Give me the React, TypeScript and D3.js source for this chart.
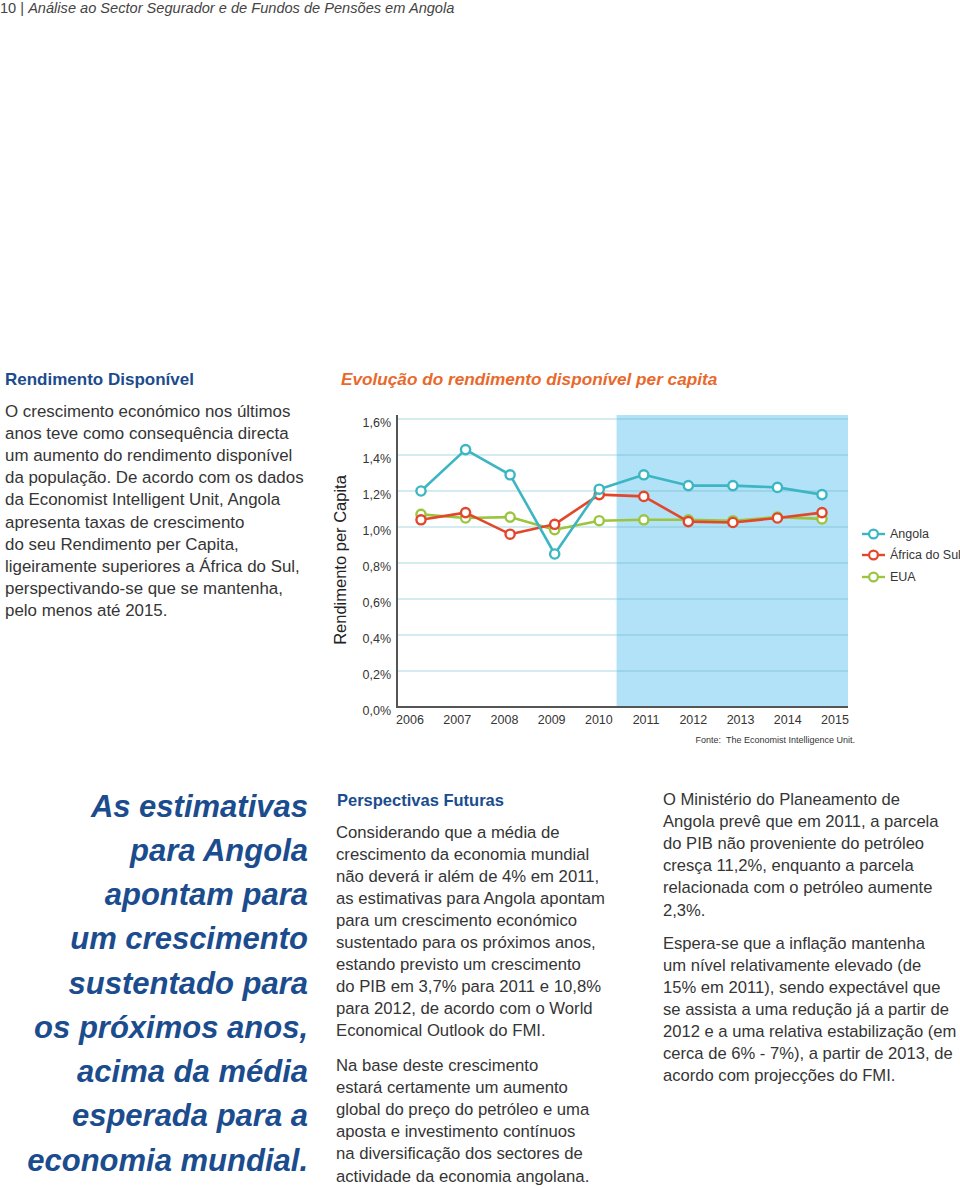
import React from 'react';
import * as d3 from 'd3';

const years = ['2006', '2007', '2008', '2009', '2010', '2011', '2012', '2013', '2014', '2015'];
const angola = [1.20, 1.43, 1.29, 0.85, 1.21, 1.29, 1.23, 1.23, 1.22, 1.18];
const africaDoSul = [1.04, 1.08, 0.96, 1.015, 1.18, 1.17, 1.03, 1.025, 1.05, 1.08];
const eua = [1.07, 1.05, 1.055, 0.985, 1.035, 1.04, 1.04, 1.035, 1.055, 1.045];
const yTicks = [0, 0.2, 0.4, 0.6, 0.8, 1.0, 1.2, 1.4, 1.6];
const forecastFrom = '2011';

const seriesNames = ['Angola', 'África do Sul', 'EUA'];
const seriesColors = ['#3bb6c2', '#e2472b', '#9cc53f'];

const headerNumber = '10 | ';
const headerTitle = 'Análise ao Sector Segurador e de Fundos de Pensões em Angola';
const chartTitle = 'Evolução do rendimento disponível per capita';
const yAxisTitle = 'Rendimento per Capita';
const sourceNote = 'Fonte:  The Economist Intelligence Unit.';

const leftHeading = 'Rendimento Disponível';
const leftBody = [
  'O crescimento económico nos últimos',
  'anos teve como consequência directa',
  'um aumento do rendimento disponível',
  'da população. De acordo com os dados',
  'da Economist Intelligent Unit, Angola',
  'apresenta taxas de crescimento',
  'do seu Rendimento per Capita,',
  'ligeiramente superiores a África do Sul,',
  'perspectivando-se que se mantenha,',
  'pelo menos até 2015.',
];
const quote = [
  'As estimativas',
  'para Angola',
  'apontam para',
  'um crescimento',
  'sustentado para',
  'os próximos anos,',
  'acima da média',
  'esperada para a',
  'economia mundial.',
];
const midHeading = 'Perspectivas Futuras';
const midBody1 = [
  'Considerando que a média de',
  'crescimento da economia mundial',
  'não deverá ir além de 4% em 2011,',
  'as estimativas para Angola apontam',
  'para um crescimento económico',
  'sustentado para os próximos anos,',
  'estando previsto um crescimento',
  'do PIB em 3,7% para 2011 e 10,8%',
  'para 2012, de acordo com o World',
  'Economical Outlook do FMI.',
];
const midBody2 = [
  'Na base deste crescimento',
  'estará certamente um aumento',
  'global do preço do petróleo e uma',
  'aposta e investimento contínuos',
  'na diversificação dos sectores de',
  'actividade da economia angolana.',
];
const rightBody1 = [
  'O Ministério do Planeamento de',
  'Angola prevê que em 2011, a parcela',
  'do PIB não proveniente do petróleo',
  'cresça 11,2%, enquanto a parcela',
  'relacionada com o petróleo aumente',
  '2,3%.',
];
const rightBody2 = [
  'Espera-se que a inflação mantenha',
  'um nível relativamente elevado (de',
  '15% em 2011), sendo expectável que',
  'se assista a uma redução já a partir de',
  '2012 e a uma relativa estabilização (em',
  'cerca de 6% - 7%), a partir de 2013, de',
  'acordo com projecções do FMI.',
];

const FONT = '"Liberation Sans", Arial, Helvetica, sans-serif';
const TEXT = '#353535';
const BLUE = '#1b4c8e';

function Lines({ lines, x, y, dy, size, anchor = 'start', fill = TEXT, weight = 'normal', style = 'normal' }: any) {
  return (
    <g>
      {lines.map((l: string, i: number) => (
        <text key={i} x={x} y={y + i * dy} fontSize={size} fill={fill} fontWeight={weight} fontStyle={style}
          textAnchor={anchor} dominantBaseline="central" fontFamily={FONT}>{l}</text>
      ))}
    </g>
  );
}

export default function App() {
  const left = 397, right = 848, top = 415, bottom = 707;
  const y = d3.scaleLinear().domain([0, 1.6]).range([bottom, 419]);
  const xPt = d3.scalePoint<string>().domain(years).range([421, 822]);
  const xLab = d3.scalePoint<string>().domain(years).range([410, 835]);
  const step = xPt.step();
  const bandStart = (xPt(forecastFrom) as number) - step * 0.61;

  const all = [angola, africaDoSul, eua];
  const line = d3.line<number>().x((_, i) => xPt(years[i]) as number).y((d) => y(d));

  return (
    <svg width={960} height={1187} style={{ position: 'absolute', left: 0, top: 0, background: '#fff' }}>
      <rect x={0} y={0} width={960} height={1187} fill="#fff" />
      {/* header */}
      <text x={0} y={8} fontSize={14.6} fill="#444" dominantBaseline="central" fontFamily={FONT}>
        <tspan>{headerNumber}</tspan>
        <tspan fontStyle="italic">{headerTitle}</tspan>
      </text>

      {/* left column */}
      <text x={5} y={379} fontSize={17} fontWeight="bold" fill={BLUE} dominantBaseline="central" fontFamily={FONT}>{leftHeading}</text>
      <Lines lines={leftBody} x={5} y={411} dy={22.2} size={16.9} />

      {/* chart */}
      <text x={341} y={379} fontSize={17.2} fontWeight="bold" fontStyle="italic" fill="#e8692b" dominantBaseline="central" fontFamily={FONT}>{chartTitle}</text>
      <rect x={bandStart} y={top} width={right - bandStart} height={bottom - top} fill="#b2e2f7" />
      {yTicks.filter((t) => t > 0).map((t) => (
        <g key={t}>
          <line x1={left} x2={bandStart} y1={y(t)} y2={y(t)} stroke="#a9d9e1" strokeWidth={1.2} />
          <line x1={bandStart} x2={right} y1={y(t)} y2={y(t)} stroke="#86c8da" strokeWidth={1.2} />
        </g>
      ))}
      {yTicks.map((t) => (
        <text key={t} x={391} y={y(t) + 4} fontSize={12.5} fill={TEXT} textAnchor="end" dominantBaseline="central" fontFamily={FONT}>
          {d3.format('.1f')(t).replace('.', ',') + '%'}
        </text>
      ))}
      <line x1={left} x2={left} y1={top} y2={bottom + 1} stroke="#555" strokeWidth={2} />
      <line x1={left - 1} x2={right} y1={bottom} y2={bottom} stroke="#555" strokeWidth={2} />
      {years.map((yr) => (
        <text key={yr} x={xLab(yr)} y={720} fontSize={12.5} fill={TEXT} textAnchor="middle" dominantBaseline="central" fontFamily={FONT}>{yr}</text>
      ))}
      <text x={340} y={560} fontSize={16.5} fill="#222" textAnchor="middle" dominantBaseline="central" fontFamily={FONT}
        transform="rotate(-90 340 560)">{yAxisTitle}</text>
      <text x={855} y={740} fontSize={9} fill={TEXT} textAnchor="end" dominantBaseline="central" fontFamily={FONT} style={{ whiteSpace: 'pre' }}>{sourceNote}</text>

      {[2, 1, 0].map((si) => (
        <g key={si}>
          <path d={line(all[si]) || ''} fill="none" stroke={seriesColors[si]} strokeWidth={2.6} strokeLinejoin="round" />
          {all[si].map((v, i) => (
            <circle key={i} cx={xPt(years[i])} cy={y(v)} r={4.6} fill="#fff" stroke={seriesColors[si]} strokeWidth={2.4} />
          ))}
        </g>
      ))}

      {/* legend */}
      {seriesNames.map((n, i) => {
        const ly = [534, 555, 577][i];
        return (
          <g key={n}>
            <line x1={862} x2={885} y1={ly} y2={ly} stroke={seriesColors[i]} strokeWidth={2.4} />
            <circle cx={873.5} cy={ly} r={4.4} fill="#fff" stroke={seriesColors[i]} strokeWidth={2.2} />
            <text x={890} y={ly} fontSize={12.5} fill={TEXT} dominantBaseline="central" fontFamily={FONT}>{n}</text>
          </g>
        );
      })}

      {/* pull quote */}
      <Lines lines={quote} x={308} y={806} dy={44.25} size={31} anchor="end" fill={BLUE} weight="bold" style="italic" />

      {/* middle column */}
      <text x={337} y={800} fontSize={16.5} fontWeight="bold" fill={BLUE} dominantBaseline="central" fontFamily={FONT}>{midHeading}</text>
      <Lines lines={midBody1} x={336} y={832} dy={22.1} size={16.7} />
      <Lines lines={midBody2} x={336} y={1065} dy={22.2} size={16.7} />

      {/* right column */}
      <Lines lines={rightBody1} x={663} y={799} dy={22.2} size={16.6} />
      <Lines lines={rightBody2} x={663} y={943} dy={22.15} size={16.6} />
    </svg>
  );
}
